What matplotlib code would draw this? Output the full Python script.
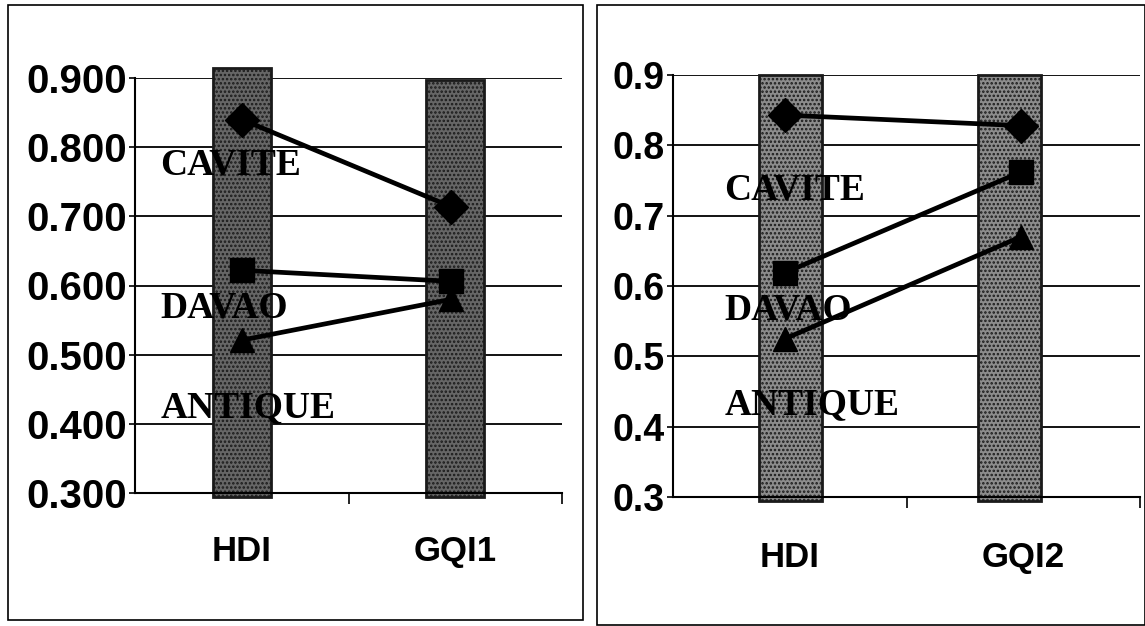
import matplotlib.pyplot as plt
from matplotlib.patches import Rectangle

plt.rcParams['hatch.linewidth'] = 1.2

provinces = ['CAVITE', 'DAVAO', 'ANTIQUE']
markers = ['D', 's', '^']

# left panel: HDI vs GQI1
cats_1 = ['HDI', 'GQI1']
cavite_1 = [0.840, 0.714]
davao_1 = [0.622, 0.606]
antique_1 = [0.521, 0.580]
bar_top_1 = [0.915, 0.897]
label_y_1 = [0.774, 0.567, 0.423]
yticks_1 = [0.3, 0.4, 0.5, 0.6, 0.7, 0.8, 0.9]
yticklabels_1 = ['0.300', '0.400', '0.500', '0.600', '0.700', '0.800', '0.900']

# right panel: HDI vs GQI2
cats_2 = ['HDI', 'GQI2']
cavite_2 = [0.843, 0.828]
davao_2 = [0.619, 0.762]
antique_2 = [0.525, 0.670]
bar_top_2 = [0.9, 0.9]
label_y_2 = [0.736, 0.566, 0.431]
yticks_2 = [0.3, 0.4, 0.5, 0.6, 0.7, 0.8, 0.9]
yticklabels_2 = ['0.3', '0.4', '0.5', '0.6', '0.7', '0.8', '0.9']

W, H = 1145, 626
fig = plt.figure(figsize=(W / 100, H / 100), dpi=100)


def px_axes(x0, x1, ytop, ybot):
    return fig.add_axes([x0 / W, 1 - ybot / H, (x1 - x0) / W, (ybot - ytop) / H])


def draw_panel(ax, cats, series, bar_tops, bar_x, mark_x, bar_color, label_x, label_y,
               yticks, yticklabels, ysize, cat_pad):
    ax.set_xlim(-0.5, 1.5)
    ax.set_ylim(0.3, 0.9)
    for y in yticks:
        ax.axhline(y, color='black', lw=1.3, zorder=1)
    for bx, top in zip(bar_x, bar_tops):
        ax.bar(bx, top - 0.294, bottom=0.294, width=0.27, color=bar_color,
               edgecolor='#1a1a1a', hatch='....', lw=2, zorder=2, clip_on=False)
    for vals, m in zip(series, markers):
        ax.plot(mark_x, vals, color='black', lw=3.4, marker=m, markersize=17,
                zorder=4, clip_on=False)
    for name, ly in zip(provinces, label_y):
        ax.text(label_x, ly, name, family='Liberation Serif', weight='bold',
                fontsize=27, va='center', ha='left', zorder=5)
    for s in ['top', 'right']:
        ax.spines[s].set_visible(False)
    ax.spines['left'].set_linewidth(1.5)
    ax.spines['bottom'].set_linewidth(1.5)
    ax.set_yticks(yticks)
    ax.set_yticklabels(yticklabels, family='Liberation Sans', weight='bold',
                       fontsize=ysize)
    ax.tick_params(axis='y', length=4, width=1.2, pad=2)
    ax.set_xticks([0, 1])
    ax.set_xticklabels(cats, family='Liberation Sans', weight='bold', fontsize=25)
    ax.tick_params(axis='x', length=0, pad=cat_pad)
    ax.set_xticks([0.5, 1.5], minor=True)
    ax.tick_params(axis='x', which='minor', length=8, width=1.2, direction='out')
    ax.set_facecolor('white')


ax1 = px_axes(135, 562, 78, 493)
draw_panel(ax1, cats_1, [cavite_1, davao_1, antique_1], bar_top_1, [0, 1], [0, 0.98],
           '#666666', -0.38, label_y_1, yticks_1, yticklabels_1, 29, 30)

ax2 = px_axes(673, 1140, 75, 497)
draw_panel(ax2, cats_2, [cavite_2, davao_2, antique_2], bar_top_2, [0.005, 0.94],
           [-0.02, 0.99], '#8c8c8c', -0.28, label_y_2, yticks_2, yticklabels_2, 27, 32)

# panel frames
fig.patches.append(Rectangle((8 / W, 1 - 620 / H), 575 / W, 615 / H, transform=fig.transFigure,
                             fill=False, edgecolor='black', lw=1.2))
fig.patches.append(Rectangle((597 / W, 1 - 625 / H), 548 / W, 620 / H, transform=fig.transFigure,
                             fill=False, edgecolor='black', lw=1.2))

fig.savefig('out.png', dpi=100)
